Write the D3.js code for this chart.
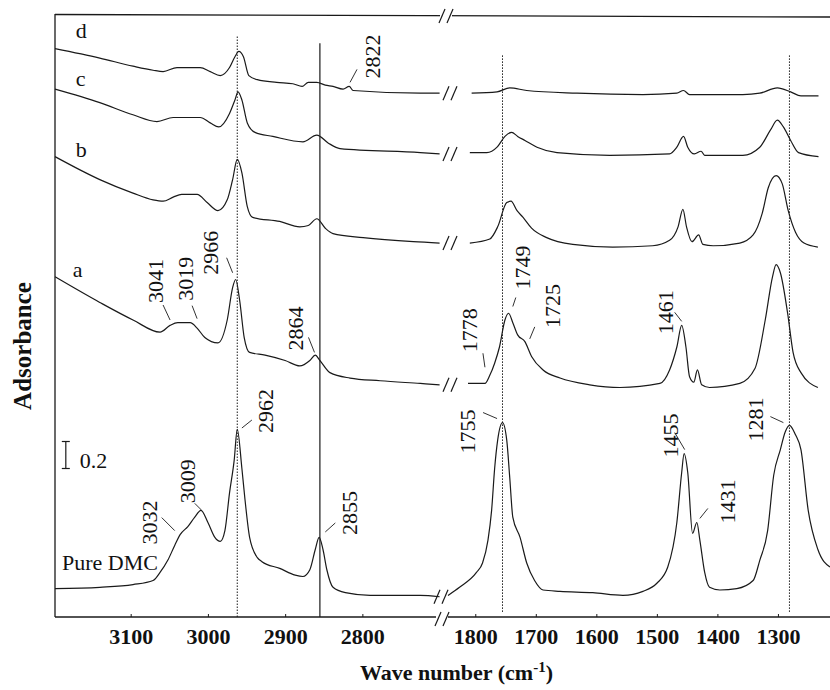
<!DOCTYPE html>
<html>
<head>
<meta charset="utf-8">
<script src="https://cdn.jsdelivr.net/npm/d3@7"></script>
<style>
  body { margin: 0; background: #fff; }
  svg { display: block; font-family: "Liberation Serif", "Times New Roman", serif; }
</style>
</head>
<body>
<div id="chart"></div>
<script>
// tick labels for the two wavenumber windows
const ticksHigh = [3100, 3000, 2900, 2800];
const ticksLow = [1800, 1700, 1600, 1500, 1400, 1300];

// spectra: [wavenumber cm-1, absorbance (stacked)]
const dmcHigh = [[3198,0.21],[3140,0.22],[3097,0.24],[3071,0.27],[3062,0.33],[3052,0.42],[3043,0.53],[3036,0.61],[3026,0.67],[3017,0.74],[3009,0.79],[3000,0.70],[2991,0.59],[2984,0.56],[2978,0.64],[2972,0.92],[2966,1.16],[2962,1.39],[2956,1.10],[2952,0.87],[2946,0.59],[2936,0.44],[2930,0.41],[2907,0.36],[2887,0.31],[2877,0.30],[2868,0.35],[2861,0.50],[2856,0.59],[2851,0.50],[2846,0.35],[2838,0.22],[2822,0.18],[2790,0.16],[2725,0.16],[2700,0.15]];
const dmcLow = [[1845,0.16],[1826,0.22],[1798,0.33],[1788,0.40],[1779,0.57],[1773,0.79],[1768,1.10],[1763,1.31],[1755,1.44],[1748,1.31],[1743,1.03],[1738,0.74],[1726,0.59],[1715,0.40],[1702,0.27],[1688,0.20],[1660,0.19],[1606,0.18],[1556,0.16],[1523,0.19],[1500,0.25],[1482,0.37],[1467,0.70],[1459,1.07],[1455,1.21],[1449,1.07],[1441,0.62],[1434,0.70],[1429,0.57],[1421,0.33],[1413,0.22],[1396,0.20],[1368,0.21],[1341,0.27],[1330,0.42],[1317,0.64],[1307,1.05],[1296,1.24],[1288,1.37],[1281,1.42],[1271,1.35],[1262,1.24],[1250,0.79],[1234,0.50],[1214,0.37]];

const aHigh = [[3198,2.52],[3140,2.33],[3097,2.20],[3062,2.11],[3049,2.16],[3039,2.18],[3023,2.18],[3014,2.14],[3004,2.07],[2987,2.03],[2975,2.20],[2968,2.44],[2964,2.50],[2959,2.35],[2953,2.07],[2946,1.96],[2926,1.94],[2900,1.90],[2881,1.86],[2868,1.90],[2861,1.94],[2855,1.90],[2842,1.81],[2816,1.77],[2777,1.75],[2725,1.73],[2700,1.72]];
const aLow = [[1812,1.73],[1784,1.73],[1776,1.79],[1768,1.88],[1760,2.00],[1751,2.20],[1745,2.25],[1738,2.18],[1730,2.09],[1718,2.04],[1707,1.93],[1688,1.83],[1660,1.77],[1611,1.72],[1561,1.70],[1495,1.73],[1479,1.83],[1467,2.00],[1459,2.16],[1452,2.00],[1446,1.78],[1439,1.74],[1433,1.83],[1426,1.72],[1413,1.70],[1363,1.73],[1338,1.84],[1321,2.20],[1309,2.52],[1303,2.61],[1296,2.55],[1284,2.25],[1275,1.96],[1262,1.81],[1234,1.70]];

const bHigh = [[3198,3.41],[3140,3.24],[3097,3.14],[3071,3.09],[3058,3.08],[3045,3.11],[3034,3.13],[3014,3.13],[3001,3.07],[2987,3.01],[2975,3.09],[2968,3.24],[2962,3.39],[2956,3.29],[2949,3.04],[2942,2.96],[2907,2.93],[2881,2.89],[2870,2.90],[2859,2.95],[2848,2.88],[2838,2.84],[2799,2.81],[2734,2.78],[2700,2.77]];
const bLow = [[1809,2.77],[1776,2.80],[1763,2.89],[1748,3.07],[1741,3.08],[1731,3.01],[1721,2.96],[1707,2.88],[1682,2.81],[1639,2.76],[1573,2.74],[1507,2.75],[1479,2.79],[1465,2.89],[1457,3.02],[1451,2.89],[1442,2.78],[1431,2.83],[1424,2.76],[1407,2.75],[1363,2.77],[1341,2.83],[1326,2.99],[1316,3.18],[1303,3.27],[1293,3.21],[1283,3.01],[1271,2.85],[1257,2.77],[1234,2.74]];

const cHigh = [[3198,3.91],[3140,3.81],[3097,3.72],[3066,3.67],[3045,3.70],[3010,3.70],[2997,3.66],[2986,3.63],[2972,3.73],[2965,3.83],[2961,3.89],[2956,3.83],[2949,3.66],[2939,3.59],[2916,3.56],[2877,3.52],[2859,3.57],[2844,3.51],[2829,3.47],[2725,3.44],[2700,3.43]];
const cLow = [[1809,3.44],[1781,3.44],[1764,3.48],[1751,3.56],[1740,3.59],[1730,3.56],[1718,3.53],[1698,3.48],[1665,3.44],[1578,3.42],[1479,3.43],[1467,3.48],[1456,3.56],[1449,3.48],[1438,3.43],[1427,3.45],[1421,3.42],[1358,3.42],[1330,3.48],[1312,3.61],[1301,3.68],[1291,3.63],[1279,3.53],[1266,3.44],[1233,3.41]];

const dHigh = [[3198,4.21],[3140,4.14],[3097,4.08],[3071,4.05],[3058,4.04],[3040,4.07],[3010,4.07],[2997,4.04],[2984,4.01],[2972,4.07],[2965,4.15],[2960,4.19],[2954,4.15],[2947,4.01],[2936,3.98],[2911,3.96],[2890,3.95],[2878,3.93],[2870,3.96],[2859,3.96],[2848,3.94],[2838,3.93],[2825,3.91],[2817,3.93],[2812,3.90],[2725,3.88],[2700,3.88]];
const dLow = [[1806,3.88],[1764,3.89],[1743,3.92],[1715,3.90],[1632,3.88],[1523,3.87],[1467,3.88],[1456,3.90],[1446,3.87],[1358,3.87],[1330,3.88],[1301,3.92],[1279,3.89],[1262,3.86],[1233,3.86]];

// reference lines (cm-1)
const refLines = [
  {w: 2962, panel: "high", dash: true, top: 4.30},
  {w: 2855, panel: "high", dash: false, top: 4.25},
  {w: 1755, panel: "low", dash: true, top: 4.16},
  {w: 1281, panel: "low", dash: true, top: 4.16}
];

// peak labels: text, panel, wavenumber, absorbance of leader foot, leader dx/dy, text dx/dy
const peakLabels = [
  ["2822","high",2816,3.96, 7,-13, 30,-4],
  ["3041","high",3049,2.20, -7,-15, -7,-17],
  ["3019","high",3014,2.21, -5,-13, -4,-18],
  ["2966","high",2968,2.55, -6,-15, -15,2],
  ["2864","high",2862,1.96, -6,-15, -11,-2],
  ["2962","high",2956,1.40, 10,-8, 31,5],
  ["3032","high",3043,0.64, -13,-13, -18,14],
  ["3009","high",3008,0.79, -7,-7, -7,-7],
  ["2855","high",2848,0.63, 10,-9, 32,3],
  ["1778","low",1784,1.85, -2,-14, -8,-15],
  ["1749","low",1738,2.30, 3,-9, 17,-17],
  ["1725","low",1710,2.06, 5,-12, 30,-11],
  ["1461","low",1459,2.19, -7,-9, -9,13],
  ["1755","low",1764,1.47, -14,-6, -22,35],
  ["1281","low",1291,1.44, -13,-6, -20,19],
  ["1455","low",1454,1.24, -10,-17, -7,8],
  ["1431","low",1429,0.73, 8,-10, 35,5]
];

const width = 830, height = 690;
const svg = d3.select("#chart").append("svg")
  .attr("width", width).attr("height", height);

const xHigh = d3.scaleLinear().domain([3198, 2700]).range([55, 439.6]);
const xLow = d3.scaleLinear().domain([1850, 1214]).range([445, 830]);
const y = d3.scaleLinear().domain([0, 4.5]).range([617, 9.5]);
const xOf = p => p === "high" ? xHigh : xLow;

const ink = "#1a1a1a";

const lineHigh = d3.line().x(d => xHigh(d[0])).y(d => y(d[1])).curve(d3.curveMonotoneX);
const lineLow = d3.line().x(d => xLow(d[0])).y(d => y(d[1])).curve(d3.curveMonotoneX);

// frame: left edge, top edge, bottom axis
svg.append("line").attr("x1", 55).attr("x2", 55).attr("y1", 14).attr("y2", 617)
  .attr("stroke", ink).attr("stroke-width", 1.3);
svg.append("line").attr("x1", 55).attr("x2", 830).attr("y1", 14.5).attr("y2", 17)
  .attr("stroke", ink).attr("stroke-width", 1.3);
svg.append("line").attr("x1", 55).attr("x2", 830).attr("y1", 617).attr("y2", 617)
  .attr("stroke", ink).attr("stroke-width", 1.3);

function brk(cx, cy) {
  [-4, 4].forEach(o => {
    svg.append("line")
      .attr("x1", cx + o - 3).attr("y1", cy + 7)
      .attr("x2", cx + o + 3).attr("y2", cy - 7)
      .attr("stroke", ink).attr("stroke-width", 1.2);
  });
}

// axes
const axHigh = svg.append("g").attr("transform", "translate(0,617)")
  .call(d3.axisBottom(xHigh).tickValues(ticksHigh).tickSize(-3).tickPadding(11).tickFormat(d3.format("d")));
const axLow = svg.append("g").attr("transform", "translate(0,617)")
  .call(d3.axisBottom(xLow).tickValues(ticksLow).tickSize(-3).tickPadding(11).tickFormat(d3.format("d")));
[axHigh, axLow].forEach(g => {
  g.select(".domain").remove();
  g.selectAll(".tick line").attr("stroke", ink);
  g.selectAll("text").attr("font-family", "Liberation Serif, serif")
    .attr("font-size", 22).attr("font-weight", "bold").attr("fill", "#111");
});
svg.append("rect").attr("x", 436).attr("y", 612).attr("width", 12).attr("height", 10).attr("fill", "#fff");
brk(442, 619);
svg.append("rect").attr("x", 440).attr("y", 9).attr("width", 12).attr("height", 12).attr("fill", "#fff");
brk(446, 16);

// reference lines
refLines.forEach(r => {
  const xx = xOf(r.panel)(r.w);
  svg.append("line").attr("x1", xx).attr("x2", xx)
    .attr("y1", y(r.top)).attr("y2", r.panel === "high" ? 617 : 613)
    .attr("stroke", ink).attr("stroke-width", r.dash ? 1 : 1.2)
    .attr("stroke-dasharray", r.dash ? "1.5,1.5" : null);
});

// spectra
const spectra = [
  {name: "Pure DMC", high: dmcHigh, low: dmcLow, gap: 0},
  {name: "a", high: aHigh, low: aLow, gap: 1},
  {name: "b", high: bHigh, low: bLow, gap: 1},
  {name: "c", high: cHigh, low: cLow, gap: 1},
  {name: "d", high: dHigh, low: dLow, gap: 1}
];
spectra.forEach(s => {
  svg.append("path").attr("d", lineHigh(s.high))
    .attr("fill", "none").attr("stroke", ink).attr("stroke-width", 1.2);
  svg.append("path").attr("d", lineLow(s.low))
    .attr("fill", "none").attr("stroke", ink).attr("stroke-width", 1.2);
  const endY = y(s.high[s.high.length - 1][1]);
  brk(s.gap ? 450 : 441, endY);
});

// curve names
const curveNames = [["d", 3171, 4.29], ["c", 3171, 3.93], ["b", 3171, 3.41], ["a", 3175, 2.52], ["Pure DMC", 3189, 0.35]];
curveNames.forEach(([t, w, v]) => {
  svg.append("text").attr("x", xHigh(w)).attr("y", y(v))
    .attr("font-size", 22).attr("fill", "#111").text(t);
});

// peak labels with leader lines
peakLabels.forEach(([t, p, w, v, ldx, ldy, tdx, tdy]) => {
  const px = xOf(p)(w), py = y(v);
  svg.append("line").attr("x1", px).attr("y1", py).attr("x2", px + ldx).attr("y2", py + ldy)
    .attr("stroke", ink).attr("stroke-width", 0.9);
  svg.append("text").attr("transform", `translate(${px + tdx},${py + tdy}) rotate(-90)`)
    .attr("font-size", 22).attr("fill", "#111").text(t);
});

// absorbance scale bar (0.2)
const barX = xHigh(3184), bar0 = 1.10;
svg.append("line").attr("x1", barX).attr("x2", barX).attr("y1", y(bar0)).attr("y2", y(bar0 + 0.2))
  .attr("stroke", ink).attr("stroke-width", 1.2);
[bar0, bar0 + 0.2].forEach(v => {
  svg.append("line").attr("x1", barX - 4).attr("x2", barX + 4).attr("y1", y(v)).attr("y2", y(v))
    .attr("stroke", ink).attr("stroke-width", 1.2);
});
svg.append("text").attr("x", barX + 14).attr("y", y(bar0) - 1)
  .attr("font-size", 22).attr("fill", "#111").text("0.2");

// axis titles
svg.append("text").attr("transform", "translate(31,346) rotate(-90)")
  .attr("text-anchor", "middle").attr("font-size", 25).attr("font-weight", "bold")
  .attr("fill", "#111").text("Adsorbance");
const xt = svg.append("text").attr("x", 360).attr("y", 680)
  .attr("font-size", 22).attr("font-weight", "bold").attr("fill", "#111");
xt.append("tspan").text("Wave number (cm");
xt.append("tspan").attr("font-size", 15).attr("dy", -8).text("-1");
xt.append("tspan").attr("dy", 8).text(")");
</script>
</body>
</html>
